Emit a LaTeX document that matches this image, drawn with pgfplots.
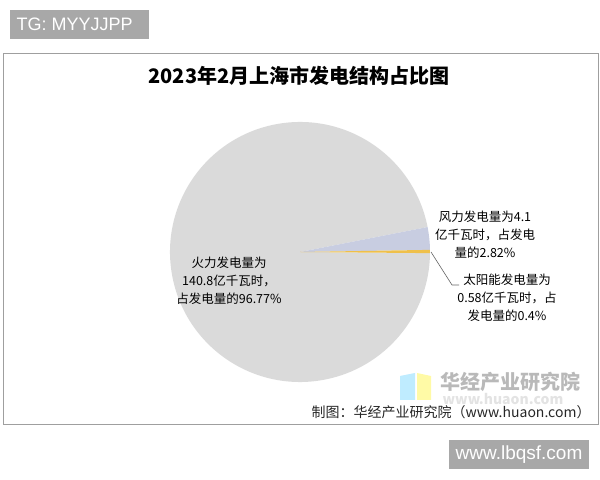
\documentclass[border=0pt]{standalone}
\usepackage{pgfplots}
\pgfplotsset{compat=1.18}
\usepackage{pgfplotstable}
\usepackage{fontspec}
\setmainfont{Noto Sans CJK SC}
\newfontfamily\arial{Liberation Sans}

\definecolor{thermal}{HTML}{DADADA}
\definecolor{wind}{HTML}{C8CDE1}
\definecolor{solar}{HTML}{EFC04A}
\definecolor{tagbox}{HTML}{A8A8A8}

% 2023-02 Shanghai generation (100 million kWh)
\pgfplotstableread{
source  value
solar   0.58
wind    4.1
thermal 140.8
}\gen

\begin{document}
\begin{tikzpicture}
\pgfplotstablegetelem{0}{value}\of\gen \let\vsolar\pgfplotsretval
\pgfplotstablegetelem{1}{value}\of\gen \let\vwind\pgfplotsretval
\pgfplotstablegetelem{2}{value}\of\gen \let\vthermal\pgfplotsretval
\pgfmathsetmacro\total{\vsolar+\vwind+\vthermal}
\pgfmathsetmacro\aA{-0.5}
\pgfmathsetmacro\aB{\aA+360*(\vsolar/\total)}
\pgfmathsetmacro\aC{\aB+360*(\vwind/\total)}
\pgfmathsetmacro\aD{\aC+360*(\vthermal/\total)}
\begin{axis}[
    width=600bp, height=480bp, scale only axis,
    xmin=0, xmax=600, ymin=0, ymax=480,
    hide axis, clip=false,
    ]
\path (axis cs:0,0) rectangle (axis cs:600,480);
% tag box
\fill[tagbox] (axis cs:10,441) rectangle (axis cs:149,470);
\node[anchor=west, text=white, font=\arial\fontsize{18bp}{21bp}\selectfont]
    at (axis cs:13,455.5) {TG: MYYJJPP};
% frame
\draw[gray!75, line width=1bp] (axis cs:3,55) rectangle (axis cs:598,426);
\node[font=\fontsize{20bp}{24bp}\selectfont\bfseries] at (axis cs:299,404)
    {2023年2月上海市发电结构占比图};
% pie
\fill[thermal] (axis cs:300,228) -- ++(\aC:130bp) arc[start angle=\aC, end angle=\aD, radius=130bp] -- cycle;
\fill[wind] (axis cs:300,228) -- ++(\aB:130bp) arc[start angle=\aB, end angle=\aC, radius=130bp] -- cycle;
\fill[solar] (axis cs:300,228) -- ++(\aA:130bp) arc[start angle=\aA, end angle=\aB, radius=130bp] -- cycle;
% labels
\node[align=center, font=\fontsize{12.5bp}{18bp}\selectfont] at (axis cs:229,199)
    {火力发电量为\\140.8亿千瓦时，\\占发电量的96.77\%};
\node[align=center, font=\fontsize{12.5bp}{18bp}\selectfont] at (axis cs:485,245)
    {风力发电量为4.1\\亿千瓦时，占发电\\量的2.82\%};
\draw[gray!80!black, line width=0.6bp] (axis cs:431,228) -- (axis cs:452,195) -- (axis cs:459,195);
\node[align=center, font=\fontsize{12.5bp}{18bp}\selectfont] at (axis cs:507,182)
    {太阳能发电量为\\0.58亿千瓦时，占\\发电量的0.4\%};
% watermark logo
\fill[blue!30!cyan!25] (axis cs:400,80) -- (axis cs:400,104) -- (axis cs:415,107) -- (axis cs:415,80) -- cycle;
\fill[yellow!35] (axis cs:417,80) -- (axis cs:417,107) -- (axis cs:431,104) -- (axis cs:431,80) -- cycle;
\node[text=gray!55, font=\fontsize{20bp}{24bp}\selectfont\bfseries] at (axis cs:510,98) {华经产业研究院};
\node[text=gray!22, font=\fontsize{14bp}{16bp}\selectfont\bfseries] at (axis cs:503,81) {www.huaon.com};
\node[anchor=east, text=black!85, font=\fontsize{14bp}{17bp}\selectfont] at (axis cs:594,68)
    {制图：华经产业研究院（www.huaon.com）};
% site box
\fill[tagbox] (axis cs:449,11) rectangle (axis cs:589,40);
\node[text=white, font=\arial\fontsize{19bp}{22bp}\selectfont] at (axis cs:519,25.5) {www.lbqsf.com};
\end{axis}
\end{tikzpicture}
\end{document}
